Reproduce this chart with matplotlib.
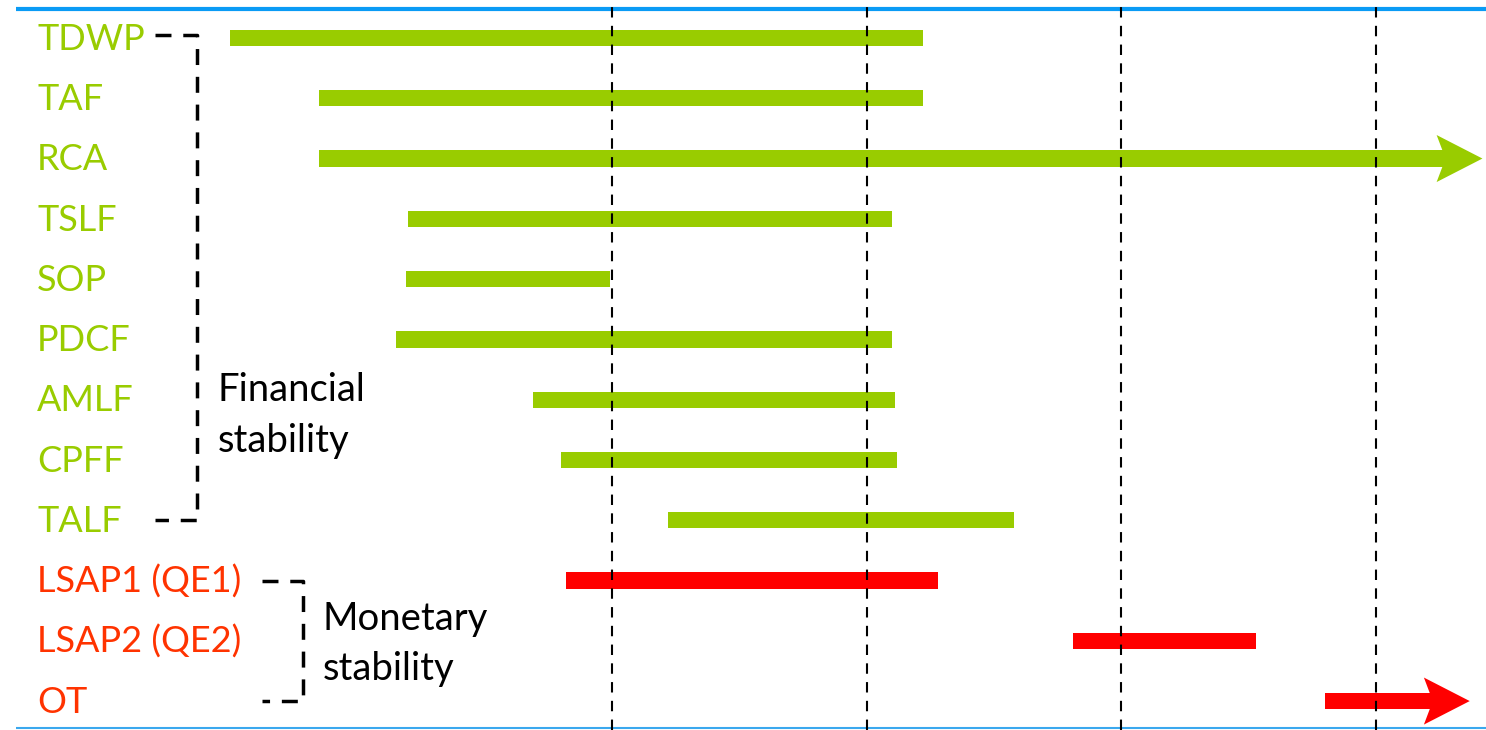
import numpy as np
import matplotlib.pyplot as plt
from matplotlib.patches import Polygon

plt.rcParams['font.family'] = ['Lato', 'DejaVu Sans']

# facilities, top to bottom (dates as decimal years)
names = ['TDWP', 'TAF', 'RCA', 'TSLF', 'SOP', 'PDCF', 'AMLF', 'CPFF', 'TALF',
         'LSAP1 (QE1)', 'LSAP2 (QE2)', 'OT']
starts = [2007.50, 2007.85, 2007.85, 2008.20, 2008.19, 2008.15, 2008.69, 2008.80, 2009.22,
          2008.82, 2010.81, 2011.80]
ends = [2010.22, 2010.22, 2012.42, 2010.10, 2008.99, 2010.10, 2010.11, 2010.12, 2010.58,
        2010.28, 2011.53, 2012.37]
ongoing = [False, False, True, False, False, False, False, False, False,
           False, False, True]
group = ['fin'] * 9 + ['mon'] * 3
year_marks = [2009, 2010, 2011, 2012]

green = '#99CC00'
red_bar = '#FF0000'
red_txt = '#FF3300'

fig = plt.figure(figsize=(14.86, 7.30), dpi=100)
ax = fig.add_axes([0, 0, 1, 1])
ax.set_xlim(2006.595, 2012.434)
ax.set_ylim(11.48, -0.63)
ax.axis('off')

bar_h = 0.27
head_len = 0.18
head_half = 0.39
notch = 0.035

for i, (s, e, arr, g) in enumerate(zip(starts, ends, ongoing, group)):
    c = green if g == 'fin' else red_bar
    if arr:
        shaft_end = e - head_len + notch
        ax.barh(i, shaft_end - s, left=s, height=bar_h, color=c, zorder=2)
        back = e - head_len
        head = Polygon([[back, i - head_half], [e, i], [back, i + head_half],
                        [back + notch, i]], closed=True, color=c, lw=0, zorder=2)
        ax.add_patch(head)
    else:
        ax.barh(i, e - s, left=s, height=bar_h, color=c, zorder=2)
    ax.text(0.025, i + 0.02, names[i], transform=ax.get_yaxis_transform(),
            color=green if g == 'fin' else red_txt, fontsize=26, va='center', ha='left')

# year separators
for yr in year_marks:
    ax.axvline(yr, color='black', lw=1.5, dashes=(5, 4), zorder=3)

# top / bottom rules
ax.plot([0.011, 1], [1 - 9 / 730, 1 - 9 / 730], transform=ax.transAxes,
        color='#0A9BF5', lw=3, solid_capstyle='butt', clip_on=False)
ax.plot([0.011, 1], [1 - 728 / 730, 1 - 728 / 730], transform=ax.transAxes,
        color='#3AA8EE', lw=1.5, solid_capstyle='butt', clip_on=False)

# group brackets
tr = ax.get_yaxis_transform()
def bracket(x0, x1, top, bot):
    ax.plot([x0, x1, x1, x0], [top, top, bot, bot], transform=tr, color='black',
            lw=2.5, dashes=(4.6, 3.4), solid_joinstyle='miter')

bracket(155 / 1486, 197 / 1486, -0.05, 8)
bracket(262 / 1486, 303 / 1486, 9, 11)

ax.text(218 / 1486, 6.26, 'Financial\nstability', transform=tr, fontsize=27.5,
        va='center', ha='left', linespacing=1.5)
ax.text(323 / 1486, 10.05, 'Monetary\nstability', transform=tr, fontsize=27.5,
        va='center', ha='left', linespacing=1.5)

fig.savefig('out.png', dpi=100)
